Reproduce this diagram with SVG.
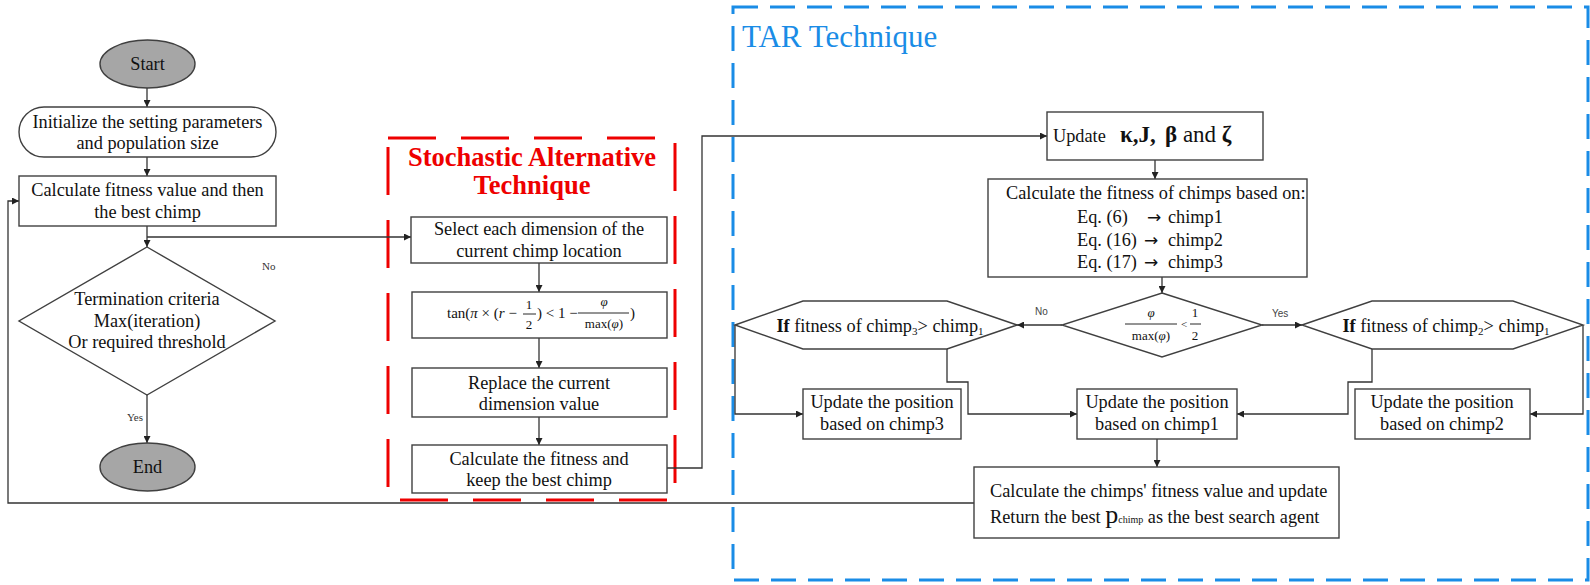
<svg xmlns="http://www.w3.org/2000/svg" width="1590" height="585" viewBox="0 0 1590 585">
<defs>
<marker id="ah" viewBox="0 0 8 8" refX="8" refY="4" markerWidth="7" markerHeight="7" markerUnits="userSpaceOnUse" orient="auto">
<path d="M0,0 L8,4 L0,8 z" fill="#222"/>
</marker>
<style>
.t{font-family:"Liberation Serif","Times New Roman",serif;font-size:18.3px;fill:#111}
.m{text-anchor:middle}
.box{fill:#fff;stroke:#404040;stroke-width:1.4}
.term{fill:#a6a6a6;stroke:#404040;stroke-width:1.4}
.c{fill:none;stroke:#333;stroke-width:1.3}
.ca{fill:none;stroke:#333;stroke-width:1.3;marker-end:url(#ah)}
.lbl{font-family:"Liberation Serif",serif;font-size:11px;fill:#333}
.lbs{font-family:"Liberation Sans",Arial,sans-serif;font-size:10px;fill:#444}
.f{font-family:"Liberation Serif",serif;font-size:15px;fill:#111}
.i{font-style:italic}
.arr{font-family:"DejaVu Sans",sans-serif;font-size:17px;fill:#111}
</style>
</defs>
<rect width="1590" height="585" fill="#fff"/>

<g id="sat-frame">
<rect x="388" y="138" width="287" height="362" fill="none" stroke="#e00" stroke-width="3" stroke-dasharray="48 25"/>
<text class="t m" x="532" y="166" style="font-size:26.5px;font-weight:bold;fill:#e00">Stochastic Alternative</text>
<text class="t m" x="532" y="194" style="font-size:26.5px;font-weight:bold;fill:#e00">Technique</text>
</g>
<g id="tar-frame">
<rect x="733" y="7" width="855" height="573" fill="none" stroke="#1a8ce6" stroke-width="3" stroke-dasharray="25 12"/>
<text class="t" x="742" y="47" style="font-size:31px;fill:#1a8ce6">TAR Technique</text>
</g>

<g id="connectors">
<line class="ca" x1="147" y1="88" x2="147" y2="107"/>
<line class="ca" x1="147" y1="157" x2="147" y2="176"/>
<line class="ca" x1="147" y1="226" x2="147" y2="247"/>
<line class="ca" x1="147" y1="237" x2="411" y2="237"/>
<text class="lbl" x="262" y="270">No</text>
<line class="ca" x1="147" y1="395" x2="147" y2="443"/>
<text class="lbl" x="143" y="421" text-anchor="end">Yes</text>
<line class="ca" x1="539" y1="263" x2="539" y2="292"/>
<line class="ca" x1="539" y1="338" x2="539" y2="368"/>
<line class="ca" x1="539" y1="417" x2="539" y2="445"/>
<polyline class="ca" points="667,468 702,468 702,136 1047,136"/>
<line class="ca" x1="1155" y1="160" x2="1155" y2="179"/>
<line class="ca" x1="1162" y1="277" x2="1162" y2="293"/>
<line class="ca" x1="1062" y1="325" x2="1017" y2="325"/>
<text class="lbs" x="1035" y="315">No</text>
<line class="ca" x1="1262" y1="325" x2="1302" y2="325"/>
<text class="lbs" x="1272" y="317">Yes</text>
<polyline class="ca" points="735,325 735,414 803,414"/>
<polyline class="ca" points="947,349 947,382 968,382 968,414 1077,414"/>
<polyline class="ca" points="1372,349 1372,382 1348,382 1348,414 1237,414"/>
<polyline class="ca" points="1583,325 1583,414 1530,414"/>
<line class="ca" x1="1157" y1="439" x2="1157" y2="467"/>
<polyline class="ca" points="974,503 8,503 8,201 19,201"/>
</g>

<g id="start">
<ellipse class="term" cx="147.5" cy="64" rx="47.5" ry="24"/>
<text class="t m" x="147.5" y="70">Start</text>
</g>
<g id="init">
<rect class="box" x="19" y="107" width="257" height="50" rx="25" ry="25"/>
<text class="t m" x="147.5" y="128">Initialize the setting parameters</text>
<text class="t m" x="147.5" y="149">and population size</text>
</g>
<g id="calc-fitness">
<rect class="box" x="19" y="176" width="257" height="50"/>
<text class="t m" x="147.5" y="196">Calculate fitness value and then</text>
<text class="t m" x="147.5" y="218">the best chimp</text>
</g>
<g id="termination">
<polygon class="box" points="147,247 275,321 147,395 19,321"/>
<text class="t m" x="147" y="305">Termination criteria</text>
<text class="t m" x="147" y="327">Max(iteration)</text>
<text class="t m" x="147" y="348">Or required threshold</text>
</g>
<g id="end">
<ellipse class="term" cx="147.5" cy="467" rx="47.5" ry="24"/>
<text class="t m" x="147.5" y="473">End</text>
</g>

<g id="sat-select">
<rect class="box" x="411" y="217" width="256" height="46"/>
<text class="t m" x="539" y="235">Select each dimension of the</text>
<text class="t m" x="539" y="257">current chimp location</text>
</g>
<g id="sat-condition">
<rect class="box" x="412" y="292" width="255" height="46"/>
<text class="f" x="447" y="318">tan(<tspan class="i">π</tspan> × (<tspan class="i">r</tspan> −</text>
<text class="f m" x="529" y="309" style="font-size:13px">1</text>
<line x1="523" y1="314" x2="536" y2="314" stroke="#111" stroke-width="0.9"/>
<text class="f m" x="529" y="329" style="font-size:13px">2</text>
<text class="f" x="537" y="318">) &lt; 1 −</text>
<text class="f m i" x="604" y="306" style="font-size:13px">φ</text>
<line x1="578" y1="313" x2="629" y2="313" stroke="#111" stroke-width="0.9"/>
<text class="f m" x="604" y="328" style="font-size:13px">max(<tspan class="i">φ</tspan>)</text>
<text class="f" x="630" y="318">)</text>
</g>
<g id="sat-replace">
<rect class="box" x="412" y="368" width="255" height="49"/>
<text class="t m" x="539" y="389">Replace the current</text>
<text class="t m" x="539" y="410">dimension value</text>
</g>
<g id="sat-calc">
<rect class="box" x="412" y="445" width="255" height="48"/>
<text class="t m" x="539" y="465">Calculate the fitness and</text>
<text class="t m" x="539" y="486">keep the best chimp</text>
</g>

<g id="update-params">
<rect class="box" x="1047" y="112" width="216" height="48"/>
<text class="t" x="1053" y="142">Update</text>
<text class="t" x="1120" y="142" style="font-size:23px"><tspan font-weight="bold">κ,J,</tspan> <tspan font-weight="bold" x="1165">β</tspan> and <tspan font-weight="bold">ζ</tspan></text>
</g>
<g id="calc-chimps">
<rect class="box" x="988" y="179" width="319" height="98"/>
<text class="t" x="1006" y="199">Calculate the fitness of chimps based on:</text>
<text class="t" x="1077" y="223">Eq. (6)</text><text class="arr" x="1147" y="223">→</text><text class="t" x="1168" y="223">chimp1</text>
<text class="t" x="1077" y="246">Eq. (16)</text><text class="arr" x="1144" y="246">→</text><text class="t" x="1168" y="246">chimp2</text>
<text class="t" x="1077" y="268">Eq. (17)</text><text class="arr" x="1144" y="268">→</text><text class="t" x="1168" y="268">chimp3</text>
</g>
<g id="phi-decision">
<polygon class="box" points="1162,293 1262,325 1162,357 1062,325"/>
<text class="f m i" x="1151" y="317" style="font-size:13px">φ</text>
<line x1="1125" y1="324" x2="1177" y2="324" stroke="#111" stroke-width="0.9"/>
<text class="f m" x="1151" y="340" style="font-size:13px">max(<tspan class="i">φ</tspan>)</text>
<text class="f m" x="1184" y="328" style="font-size:11px">&lt;</text>
<text class="f m" x="1195" y="317" style="font-size:13px">1</text>
<line x1="1190" y1="324" x2="1201" y2="324" stroke="#111" stroke-width="0.9"/>
<text class="f m" x="1195" y="340" style="font-size:13px">2</text>
</g>
<g id="if-chimp3">
<polygon class="box" points="735,325 803,301 947,301 1017,325 947,349 803,349"/>
<text class="t m" x="880" y="332"><tspan font-weight="bold">If</tspan> fitness of chimp<tspan font-size="11" dy="3">3</tspan><tspan dy="-3">&gt; chimp</tspan><tspan font-size="11" dy="3">1</tspan></text>
</g>
<g id="if-chimp2">
<polygon class="box" points="1302,325 1372,301 1513,301 1583,325 1513,349 1372,349"/>
<text class="t m" x="1446" y="332"><tspan font-weight="bold">If</tspan> fitness of chimp<tspan font-size="11" dy="3">2</tspan><tspan dy="-3">&gt; chimp</tspan><tspan font-size="11" dy="3">1</tspan></text>
</g>
<g id="pos-chimp3">
<rect class="box" x="803" y="389" width="158" height="50"/>
<text class="t m" x="882" y="408">Update the position</text>
<text class="t m" x="882" y="430">based on chimp3</text>
</g>
<g id="pos-chimp1">
<rect class="box" x="1077" y="389" width="160" height="50"/>
<text class="t m" x="1157" y="408">Update the position</text>
<text class="t m" x="1157" y="430">based on chimp1</text>
</g>
<g id="pos-chimp2">
<rect class="box" x="1355" y="389" width="175" height="50"/>
<text class="t m" x="1442" y="408">Update the position</text>
<text class="t m" x="1442" y="430">based on chimp2</text>
</g>
<g id="final-update">
<rect class="box" x="974" y="467" width="365" height="71"/>
<text class="t" x="990" y="497">Calculate the chimps' fitness value and update</text>
<text class="t" x="990" y="523">Return the best <tspan font-size="26">p</tspan><tspan font-size="10">chimp</tspan> as the best search agent</text>
</g>
</svg>
